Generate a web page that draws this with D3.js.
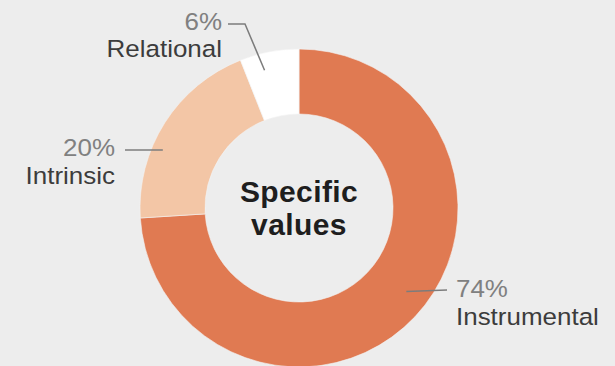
<!DOCTYPE html>
<html>
<head>
<meta charset="utf-8">
<title>Specific values</title>
<script src="https://cdn.jsdelivr.net/npm/d3@7/dist/d3.min.js"></script>
<style>
html, body {
    margin: 0;
    padding: 0;
    background: #ededed;
}
body {
    font-family: "Helvetica Neue", Helvetica, Arial, "Liberation Sans", sans-serif;
}
#chart {
    width: 615px;
    height: 366px;
    overflow: hidden;
}
</style>
</head>
<body>
<div id="chart"></div>

<script>
// data
const categories = ["Instrumental", "Intrinsic", "Relational"];
const shares = [74, 20, 6];
const colors = ["#e07a52", "#f3c6a6", "#ffffff"];

// label layout: where leader touches the slice (fraction of slice angle, radius)
// and where the text block sits
const labelLayout = [
    { frac: 0.48, r: 136, line: [[447, 290]], tx: 456, ty: 297.5, anchor: "start" },
    { frac: 0.37, r: 148, line: [[125, 150]], tx: 115, ty: 156.5, anchor: "end" },
    { frac: 0.35, r: 142, line: [[245, 24], [228, 24]], tx: 222, ty: 30, anchor: "end" }
];
const lineGap = 27.5;

const width = 615, height = 366;
const cx = 299, cy = 208;
const outerR = 159, innerR = 94;

const svg = d3.select("#chart").append("svg")
    .attr("width", width)
    .attr("height", height);

svg.append("rect").attr("width", width).attr("height", height).attr("fill", "#ededed");

const g = svg.append("g").attr("transform", `translate(${cx},${cy})`);

const pie = d3.pie().sort(null).value(d => d);
const arcs = pie(shares);

const arc = d3.arc().innerRadius(innerR).outerRadius(outerR);

g.selectAll("path.slice")
    .data(arcs)
    .enter().append("path")
    .attr("class", "slice")
    .attr("d", arc)
    .attr("fill", (d, i) => colors[i])
    .attr("stroke", "#f4f4f4")
    .attr("stroke-width", 0.6);

// leader lines + labels
arcs.forEach((d, i) => {
    const L = labelLayout[i];
    const a = d.startAngle + L.frac * (d.endAngle - d.startAngle);
    const px = cx + L.r * Math.sin(a);
    const py = cy - L.r * Math.cos(a);
    const pts = [[px, py]].concat(L.line);

    svg.append("path")
        .attr("d", d3.line()(pts))
        .attr("fill", "none")
        .attr("stroke", "#7c7c7c")
        .attr("stroke-width", 1.5);

    // the original face is a bit wider than Arial, stretch slightly
    const lab = svg.append("g")
        .attr("transform", `translate(${L.tx},0) scale(1.06,1) translate(${-L.tx},0)`);

    lab.append("text")
        .attr("x", L.tx)
        .attr("y", L.ty)
        .attr("text-anchor", L.anchor)
        .attr("font-size", "24.5px")
        .attr("fill", "#808080")
        .text(shares[i] + "%");

    lab.append("text")
        .attr("x", L.tx)
        .attr("y", L.ty + lineGap)
        .attr("text-anchor", L.anchor)
        .attr("font-size", "24.5px")
        .attr("fill", "#3c3c3c")
        .text(categories[i]);
});

// centre title
const title = svg.append("text")
    .attr("x", cx)
    .attr("text-anchor", "middle")
    .attr("font-size", "30px")
    .attr("font-weight", "bold")
    .attr("letter-spacing", "0.4px")
    .attr("fill", "#1e1e1e");
title.append("tspan").attr("x", cx).attr("y", 202).text("Specific");
title.append("tspan").attr("x", cx).attr("y", 235).text("values");
</script>
</body>
</html>
